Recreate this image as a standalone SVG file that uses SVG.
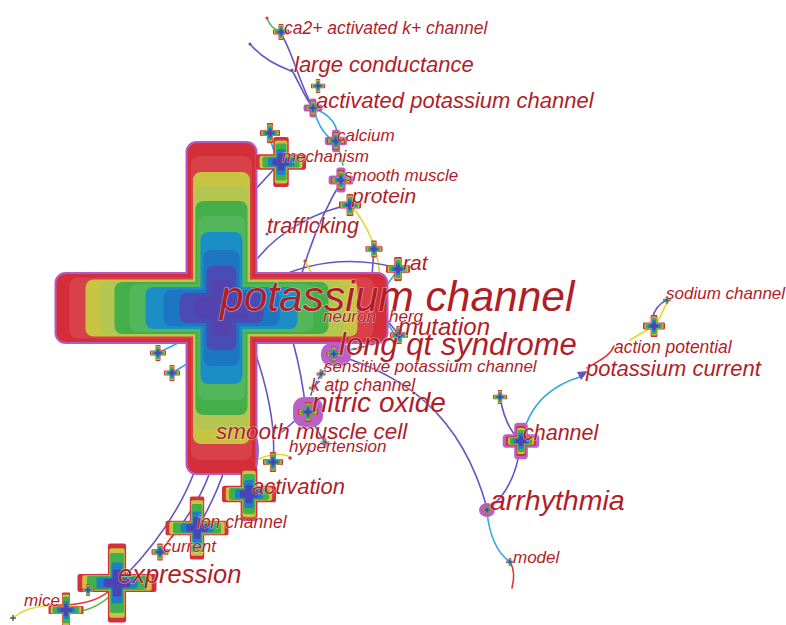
<svg xmlns="http://www.w3.org/2000/svg" width="786" height="625" viewBox="0 0 786 625">
<style>
.t{font-family:"Liberation Sans",Arial,sans-serif;font-style:italic;fill:#b01e28;stroke:#ffffff;stroke-width:1.2;stroke-opacity:.55;paint-order:stroke}
.e{fill:none;stroke-width:1.6;stroke-linecap:round}
.p{stroke:#6a52c4}.c{stroke:#2ea8e2}.y{stroke:#e2d82c}.g{stroke:#5cb84a}.r{stroke:#e03434}
.halo{fill:#b862c8}
</style>
<defs>
<g id="cr">
<rect x="-10" y="-3.1" width="20" height="6.2" rx="1" fill="#d42f3a"/>
<rect x="-3.1" y="-10" width="6.2" height="20" rx="1" fill="#d42f3a"/>
<rect x="-8.6" y="-2.5" width="17.2" height="5" rx=".8" fill="#c9c23e"/>
<rect x="-2.5" y="-8.6" width="5" height="17.2" rx=".8" fill="#c9c23e"/>
<rect x="-7.4" y="-2.2" width="14.8" height="4.4" rx=".8" fill="#3fb04a"/>
<rect x="-2.2" y="-7.4" width="4.4" height="14.8" rx=".8" fill="#3fb04a"/>
<rect x="-5.2" y="-1.75" width="10.4" height="3.5" rx=".7" fill="#1f7ec8"/>
<rect x="-1.75" y="-5.2" width="3.5" height="10.4" rx=".7" fill="#1f7ec8"/>
<rect x="-3.4" y="-1.35" width="6.8" height="2.7" rx=".6" fill="#4b43b6"/>
<rect x="-1.35" y="-3.4" width="2.7" height="6.8" rx=".6" fill="#4b43b6"/>
</g>
<g id="crL">
<rect x="-10" y="-2.3" width="20" height="4.6" rx=".6" fill="#d42f3a"/>
<rect x="-2.3" y="-10" width="4.6" height="20" rx=".6" fill="#d42f3a"/>
<rect x="-8.8" y="-1.95" width="17.6" height="3.9" rx=".5" fill="#c9c23e"/>
<rect x="-1.95" y="-8.8" width="3.9" height="17.6" rx=".5" fill="#c9c23e"/>
<rect x="-7.6" y="-1.75" width="15.2" height="3.5" rx=".5" fill="#3fb04a"/>
<rect x="-1.75" y="-7.6" width="3.5" height="15.2" rx=".5" fill="#3fb04a"/>
<rect x="-5.2" y="-1.4" width="10.4" height="2.8" rx=".5" fill="#1f7ec8"/>
<rect x="-1.4" y="-5.2" width="2.8" height="10.4" rx=".5" fill="#1f7ec8"/>
<rect x="-3.4" y="-1.1" width="6.8" height="2.2" rx=".4" fill="#4b43b6"/>
<rect x="-1.1" y="-3.4" width="2.2" height="6.8" rx=".4" fill="#4b43b6"/>
</g>
<g id="hx">
<rect x="-11.8" y="-4.4" width="23.6" height="8.8" rx="2.5" class="halo"/>
<rect x="-4.4" y="-11.8" width="8.8" height="23.6" rx="2.5" class="halo"/>
</g>
</defs>

<g id="connectors">
<path class="e p" d="M281,34 C292,50 298,80 313,108"/>
<path class="e p" d="M250,44 C265,62 285,68 293,72 C300,85 305,98 313,108"/>
<circle cx="250" cy="44" r="1.6" fill="#6a52c4"/>
<path class="e g" d="M267,18 Q270,28 281,32"/>
<circle cx="267" cy="18" r="1.5" fill="#e03434"/>
<path class="e c" d="M313,108 C318,125 325,138 337,142"/>
<path class="e c" d="M313,108 C330,114 340,126 337,142"/>
<path class="e c" d="M269,133 Q272,150 280,162"/>
<path class="e p" d="M280,162 Q265,180 240,205"/>
<path class="e g" d="M337,142 L343,165"/>
<path class="e p" d="M342,180 Q315,225 300,280"/>
<path class="e p" d="M258,258 C280,230 320,210 350,205"/>
<path class="e y" d="M352,207 C368,225 378,250 380,276"/>
<path class="e p" d="M374,249 L372,276"/>
<path class="e p" d="M268,282 Q330,250 398,268"/>
<path class="e y" d="M305,261 L313,276"/>
<circle cx="305" cy="261" r="1.6" fill="#e03434"/>
<path class="e c" d="M398,270 L386,286"/>
<path class="e c" d="M335,354 L399,336" stroke-dasharray="5 3"/>
<path class="e r" d="M345,352 L392,339" stroke-dasharray="3 6" stroke-width="1.2"/>
<path class="e p" d="M387,320 L399,335"/>
<path class="e c" d="M384,318 L397,338"/>
<path class="e p" d="M340,356 C400,375 460,410 487,508"/>
<path class="e" d="M333,356 L321,374 L313,388 L306,411" stroke="#2a6ad0" stroke-dasharray="3 3"/>
<path class="e p" d="M293,342 Q302,375 306,411"/>
<path class="e p" d="M255,352 C268,390 276,430 273,462"/>
<path class="e p" d="M306,411 L282,432"/>
<path class="e p" d="M306,411 L325,443"/>
<path class="e y" d="M259,459 Q275,452 288,456"/>
<circle cx="290" cy="458" r="1.8" fill="#e03434"/>
<path class="e p" d="M195,470 C182,505 160,540 125,576"/>
<path class="e p" d="M210,472 C200,500 186,520 172,537"/>
<path class="e p" d="M225,468 C218,490 208,510 198,527"/>
<path class="e p" d="M257,440 C260,455 256,472 249,493"/>
<path class="e r" d="M173,535 L162,550"/>
<path class="e r" d="M110,590 C100,600 82,606 50,605"/>
<path class="e g" d="M112,594 C100,606 86,612 70,612"/>
<path class="e y" d="M47,606 Q25,607 13,618"/>
<path class="e" d="M117,583 L88,590" stroke="#2a6ad0"/>
<path class="e c" d="M180,342 L160,352"/>
<path class="e c" d="M190,362 L172,373"/>
<path class="e p" d="M500,397 C503,415 510,432 521,441"/>
<path class="e p" d="M521,441 C518,470 508,495 487,510"/>
<path class="e c" d="M521,441 C530,400 555,384 583,376"/>
<path d="M577,372 L588,371 L581,380 Z" fill="#6a52c4"/>
<path class="e r" d="M587,368 C600,360 610,356 614,346"/>
<path class="e y" d="M630,340 L652,327"/>
<path class="e p" d="M652,320 Q655,305 667,300"/>
<path class="e y" d="M658,321 Q665,306 669,300"/>
<path class="e c" d="M487,512 C490,540 500,555 510,562"/>
<path class="e r" d="M510,562 C515,570 514,580 512,588"/>
</g>

<g id="n-potassium-channel">
<rect x="56.5" y="274" width="330" height="68" rx="9" fill="#d42e3a" stroke="#b45cc6" stroke-width="4"/>
<rect x="187.5" y="143" width="68" height="330" rx="9" fill="#d42e3a" stroke="#b45cc6" stroke-width="4"/>
<rect x="56.5" y="274" width="330" height="68" rx="9" fill="#d42e3a"/>
<rect x="187.5" y="143" width="68" height="330" rx="9" fill="#d42e3a"/>
<rect x="69.5" y="277.5" width="304" height="61" rx="8" fill="#d8404a"/>
<rect x="191" y="156" width="61" height="304" rx="8" fill="#d8404a"/>
<rect x="85.5" y="279.5" width="272" height="57" rx="8" fill="#c8c442"/>
<rect x="193" y="172" width="57" height="272" rx="8" fill="#c8c442"/>
<rect x="99.5" y="281" width="244" height="54" rx="8" fill="#b2c650"/>
<rect x="194.5" y="186" width="54" height="244" rx="8" fill="#b2c650"/>
<rect x="114.5" y="282" width="214" height="52" rx="8" fill="#44ae4a"/>
<rect x="195.5" y="201" width="52" height="214" rx="8" fill="#44ae4a"/>
<rect x="129.5" y="284" width="184" height="48" rx="8" fill="#52b65a"/>
<rect x="197.5" y="216" width="48" height="184" rx="8" fill="#52b65a"/>
<rect x="145.5" y="287" width="152" height="42" rx="8" fill="#1c8ec6"/>
<rect x="200.5" y="232" width="42" height="152" rx="8" fill="#1c8ec6"/>
<rect x="163.5" y="290" width="116" height="36" rx="8" fill="#1c76c2"/>
<rect x="203.5" y="250" width="36" height="116" rx="8" fill="#1c76c2"/>
<rect x="179.5" y="293" width="84" height="30" rx="7" fill="#4a4cb6"/>
<rect x="206.5" y="266" width="30" height="84" rx="7" fill="#4a4cb6"/>
<rect x="193.5" y="298" width="56" height="20" rx="5" fill="#5444b0"/>
<rect x="211.5" y="280" width="20" height="56" rx="5" fill="#5444b0"/>
<text class="t" x="220" y="311" font-size="42.5">potassium channel</text>
</g>

<g id="n-neuron"><text class="t" x="323" y="322" font-size="17">neuron</text></g>
<g id="n-herg"><text class="t" x="389" y="322" font-size="17">herg</text></g>

<g id="n-ca2"><use href="#cr" transform="translate(281,32) scale(.8)"/><text class="t" x="284" y="34" font-size="17.5">ca2+ activated k+ channel</text></g>
<g id="n-large-conductance"><circle cx="292" cy="70" r="1.6" fill="#6a52c4"/><text class="t" x="294" y="72" font-size="22">large conductance</text></g>
<g id="n-small1"><use href="#cr" transform="translate(318,86) scale(.7)"/></g>
<g id="n-activated-potassium-channel"><use href="#hx" transform="translate(313,108) scale(.8)"/><use href="#cr" transform="translate(313,108) scale(.75)"/><text class="t" x="316" y="108" font-size="22">activated potassium channel</text></g>
<g id="n-calcium"><use href="#hx" transform="translate(336,141) scale(.95)"/><use href="#cr" transform="translate(336,141) scale(.9)"/><text class="t" x="337" y="141" font-size="17">calcium</text></g>
<g id="n-small2"><use href="#cr" transform="translate(270,133) scale(1)"/></g>
<g id="n-mechanism"><use href="#cr" transform="translate(281,162) scale(2.5)"/><text class="t" x="282" y="162" font-size="17">mechanism</text></g>
<g id="n-smooth-muscle"><use href="#hx" transform="translate(341,180) scale(1.05)"/><use href="#cr" transform="translate(341,180) scale(1)"/><text class="t" x="344" y="181" font-size="17">smooth muscle</text></g>
<g id="n-protein"><use href="#cr" transform="translate(350,205) scale(1.1)"/><text class="t" x="352" y="203" font-size="21">protein</text></g>
<g id="n-trafficking"><circle cx="267" cy="234" r="1.5" fill="#6a52c4"/><text class="t" x="267" y="233" font-size="21.5">trafficking</text></g>
<g id="n-small3"><use href="#cr" transform="translate(374,249) scale(.85)"/></g>
<g id="n-rat"><use href="#cr" transform="translate(398,269) scale(1.2)"/><text class="t" x="403" y="270" font-size="21">rat</text></g>
<g id="n-mutation"><use href="#cr" transform="translate(399,335) scale(.9)"/><text class="t" x="398" y="335" font-size="24">mutation</text></g>
<g id="n-long-qt-syndrome"><rect x="321" y="343" width="30" height="23" rx="10" class="halo"/><use href="#cr" transform="translate(334,354) scale(.75)"/><text class="t" x="339" y="355" font-size="31">long qt syndrome</text></g>
<g id="n-sensitive-potassium-channel"><use href="#cr" transform="translate(321,374) scale(.45)"/><text class="t" x="324" y="372" font-size="17">sensitive potassium channel</text></g>
<g id="n-k-atp-channel"><use href="#cr" transform="translate(313,388) scale(.4)"/><text class="t" x="311" y="391" font-size="17.5">k atp channel</text></g>
<g id="n-nitric-oxide"><rect x="293" y="397" width="30" height="30" rx="11" class="halo"/><use href="#cr" transform="translate(308,412) scale(1)"/><text class="t" x="312" y="412" font-size="28">nitric oxide</text></g>
<g id="n-smooth-muscle-cell"><text class="t" x="216" y="439" font-size="22.5">smooth muscle cell</text></g>
<g id="n-hypertension"><use href="#cr" transform="translate(325,443) scale(.45)"/><text class="t" x="289" y="452" font-size="17">hypertension</text></g>
<g id="n-small4"><use href="#cr" transform="translate(273,462) scale(1)"/></g>
<g id="n-activation"><use href="#cr" transform="translate(249,494) scale(2.7)"/><text class="t" x="252" y="494" font-size="22">activation</text></g>
<g id="n-ion-channel"><use href="#crL" transform="translate(197,528) scale(3.15)"/><text class="t" x="197" y="528" font-size="17.5">ion channel</text></g>
<g id="n-current"><use href="#cr" transform="translate(160,552) scale(.85)"/><text class="t" x="163" y="552" font-size="17">current</text></g>
<g id="n-expression"><use href="#crL" transform="translate(117,583) scale(3.95)"/><text class="t" x="118" y="583" font-size="25.5">expression</text></g>
<g id="n-small5"><use href="#cr" transform="translate(88,590) scale(.6)"/></g>
<g id="n-mice"><use href="#crL" transform="translate(66,610) scale(1.75)"/><text class="t" x="24" y="606" font-size="17">mice</text></g>
<g id="n-small6"><use href="#cr" transform="translate(13,618) scale(.3)"/></g>
<g id="n-small7"><use href="#cr" transform="translate(158,353) scale(.8)"/></g>
<g id="n-small8"><use href="#cr" transform="translate(172,373) scale(.8)"/></g>
<g id="n-small9"><use href="#cr" transform="translate(500,397) scale(.7)"/></g>
<g id="n-channel"><use href="#hx" transform="translate(521,441) scale(1.55)"/><use href="#cr" transform="translate(521,441) scale(1.5)"/><text class="t" x="523" y="440" font-size="21.5">channel</text></g>
<g id="n-arrhythmia"><ellipse cx="487" cy="510" rx="8" ry="7" class="halo"/><use href="#cr" transform="translate(487,510) scale(.5)"/><text class="t" x="490" y="510" font-size="28.5">arrhythmia</text></g>
<g id="n-model"><use href="#cr" transform="translate(510,562) scale(.4)"/><text class="t" x="513" y="563" font-size="17">model</text></g>
<g id="n-potassium-current"><text class="t" x="586" y="376" font-size="22">potassium current</text></g>
<g id="n-action-potential"><text class="t" x="614" y="353" font-size="17.5">action potential</text></g>
<g id="n-small10"><use href="#cr" transform="translate(654,326) scale(1.1)"/></g>
<g id="n-sodium-channel"><use href="#cr" transform="translate(667,300) scale(.4)"/><text class="t" x="666" y="299" font-size="17">sodium channel</text></g>
</svg>
